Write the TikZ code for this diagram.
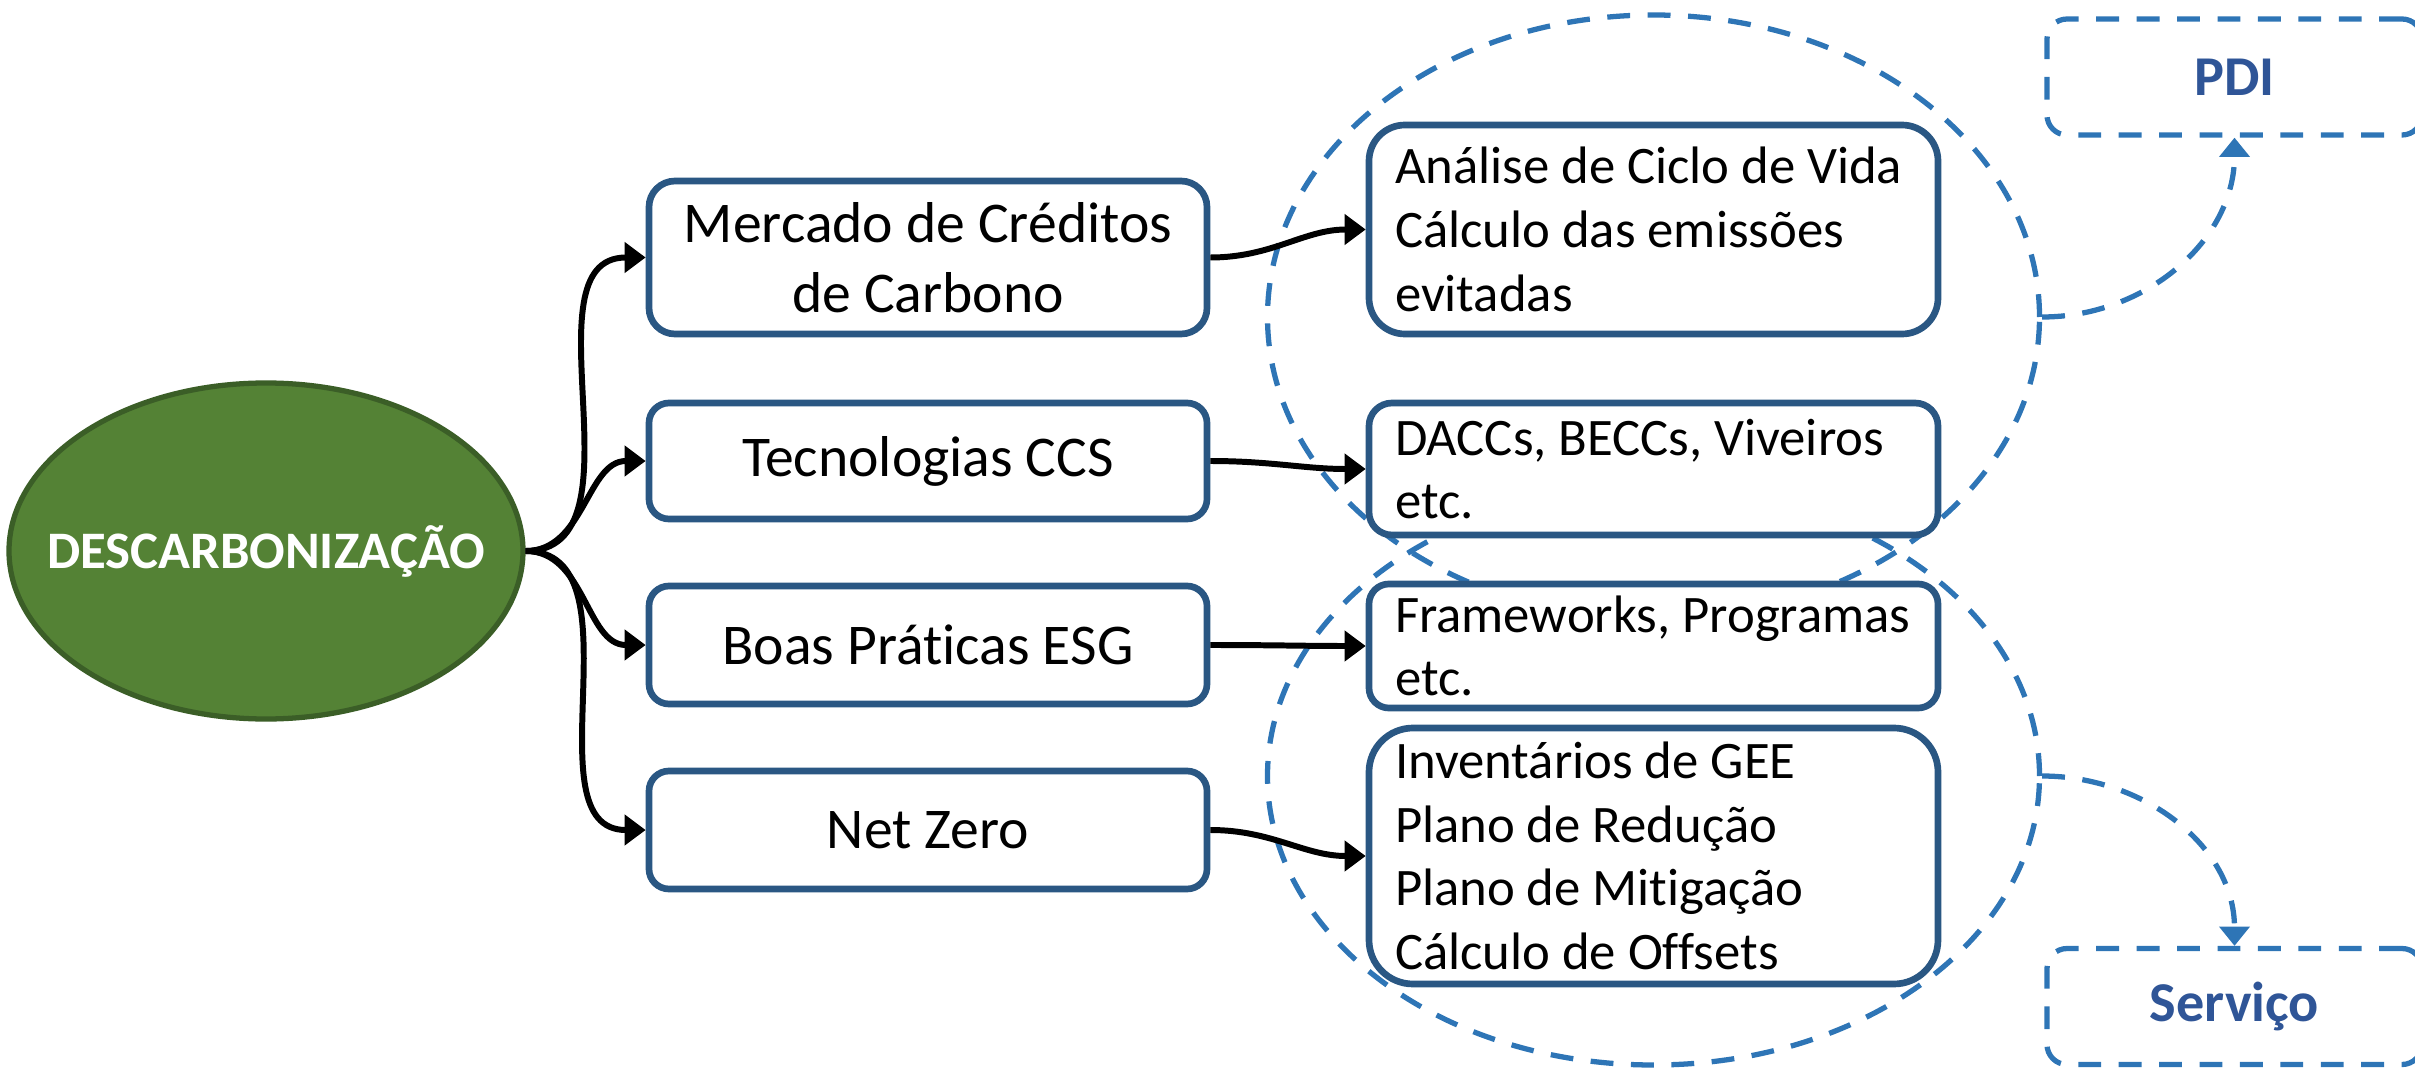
\documentclass[tikz,border=0pt]{standalone}
\usepackage{fontspec}
\setmainfont{Carlito}[Ligatures=NoCommon]
\usetikzlibrary{arrows.meta,shapes.geometric,positioning}

\definecolor{leafgreen}{HTML}{548235}
\definecolor{leafdark}{HTML}{3B5E27}
\definecolor{boxblue}{HTML}{2A5783}
\definecolor{dashblue}{HTML}{2E75B6}
\definecolor{tagblue}{HTML}{2F5597}

\tikzset{
  root/.style={ellipse, draw=leafdark, line width=1.5pt, fill=leafgreen,
    minimum width=5.14cm, minimum height=3.36cm, text=white,
    font=\fontsize{15}{18}\selectfont\bfseries},
  topic/.style={draw=boxblue, line width=1.9pt, fill=white, rounded corners=#1,
    minimum width=5.58cm, align=center, font=\fontsize{16.4}{19.9}\selectfont},
  topic/.default=0.2cm,
  detail/.style={draw=boxblue, line width=1.9pt, fill=white, rounded corners=#1,
    inner xsep=0.26cm, text width=5.17cm, align=flush left,
    font=\fontsize{15}{18.1}\selectfont},
  detail/.default=0.2cm,
  group/.style={ellipse, draw=dashblue, line width=1.5pt,
    dash pattern=on 6.5pt off 5pt, minimum width=7.72cm},
  tag/.style={draw=dashblue, line width=1.5pt, dash pattern=on 6.5pt off 5pt,
    rounded corners=0.2cm, minimum width=3.75cm, minimum height=1.16cm,
    text=tagblue, font=\fontsize{16}{19}\selectfont\bfseries},
  link/.style={line width=1.7pt, -{Triangle[length=6pt,width=8.5pt]}},
  hop/.style={draw=dashblue, line width=1.5pt, dash pattern=on 6.5pt off 5pt,
    -{Triangle[length=5.5pt,width=8.5pt]}}
}

\begin{document}
\begin{tikzpicture}
  % Define dimensions
  \def\xl{9.28}
  \def\xr{16.535}
  \def\xt{22.345}
  \useasboundingbox (0,0) rectangle (24.15,10.70);

  % Draw groups
  \node[group, minimum height=6.04cm] (upper) at (\xr,7.53) {};
  \node[group, minimum height=5.78cm] (lower) at (\xr,2.94) {};

  % Draw root
  \node[root] (desc) at (2.66,5.19) {\makebox[0pt]{DESCARBONIZAÇÃO}};

  % Draw topics
  \node[topic=0.26cm, minimum height=1.53cm] (mercado) at (\xl,8.125) {Mercado de Créditos\\de Carbono};
  \node[topic, minimum height=1.16cm] (ccs) at (\xl,6.09) {Tecnologias CCS};
  \node[topic, minimum height=1.18cm] (esg) at (\xl,4.25) {Boas Práticas ESG};
  \node[topic, minimum height=1.18cm] (netzero) at (\xl,2.40) {Net Zero};

  % Draw details
  \node[detail=0.36cm, minimum height=2.09cm] (acv) at (\xr,8.405) {Análise~de~Ciclo~de~Vida\\Cálculo das emissões\\evitadas};
  \node[detail=0.23cm, minimum height=1.32cm] (dacc) at (\xr,6.01) {DACCs,~BECCs,~Viveiros\\etc.};
  \node[detail, minimum height=1.16cm] (frame) at (\xr,4.24) {Frameworks,~Programas\\etc.};
  \node[detail=0.44cm, minimum height=2.56cm] (gee) at (\xr,2.14) {Inventários de GEE\\Plano de Redução\\Plano de Mitigação\\Cálculo de Offsets};

  % Draw tags
  \node[tag] (pdi) at (\xt,9.93) {PDI};
  \node[tag] (servico) at (\xt,0.635) {Serviço};

  % Draw links
  \foreach \topic in {mercado, ccs, esg, netzero}
      \draw[link] (desc.east) to[out=0,in=180] (\topic.west);
  \foreach \topic/\detail in {mercado/acv, ccs/dacc, esg/frame, netzero/gee}
      \draw[link] (\topic.east) to[out=0,in=180] (\detail.west);

  % Draw hops
  \draw[hop] (upper.east) to[out=0,in=-90] (pdi.south);
  \draw[hop] (lower.east) to[out=0,in=90] (servico.north);
\end{tikzpicture}
\end{document}
